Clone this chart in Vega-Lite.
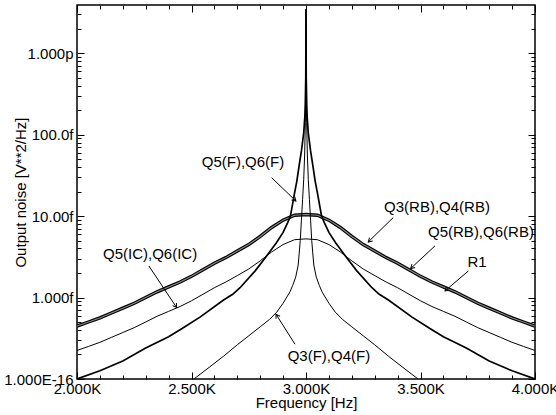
{
  "$schema": "https://vega.github.io/schema/vega-lite/v6.json",
  "width": 458,
  "height": 374,
  "autosize": {"type": "none"},
  "padding": {"left": 77, "top": 5, "right": 21, "bottom": 36},
  "background": "white",
  "config": {
    "font": "Liberation Sans",
    "view": {"stroke": "black", "strokeWidth": 1.5}
  },
  "datasets": {
    "curves": [
      {"s":"RB","f":2000,"v":4.47e-16},{"s":"RB","f":2050,"v":5.01e-16},{"s":"RB","f":2100,"v":5.62e-16},{"s":"RB","f":2150,"v":6.46e-16},{"s":"RB","f":2200,"v":7.41e-16},{"s":"RB","f":2250,"v":8.51e-16},{"s":"RB","f":2300,"v":1.0e-15},{"s":"RB","f":2350,"v":1.175e-15},{"s":"RB","f":2400,"v":1.35e-15},{"s":"RB","f":2450,"v":1.55e-15},{"s":"RB","f":2500,"v":1.82e-15},{"s":"RB","f":2550,"v":2.19e-15},{"s":"RB","f":2600,"v":2.63e-15},{"s":"RB","f":2650,"v":3.09e-15},{"s":"RB","f":2700,"v":3.72e-15},{"s":"RB","f":2750,"v":4.47e-15},{"s":"RB","f":2800,"v":5.62e-15},{"s":"RB","f":2850,"v":7.24e-15},{"s":"RB","f":2900,"v":8.91e-15},{"s":"RB","f":2950,"v":1.023e-14},{"s":"RB","f":3000,"v":1.047e-14},{"s":"RB","f":3050,"v":1.023e-14},{"s":"RB","f":3100,"v":8.91e-15},{"s":"RB","f":3150,"v":7.24e-15},{"s":"RB","f":3200,"v":5.62e-15},{"s":"RB","f":3250,"v":4.47e-15},{"s":"RB","f":3300,"v":3.72e-15},{"s":"RB","f":3350,"v":3.09e-15},{"s":"RB","f":3400,"v":2.63e-15},{"s":"RB","f":3450,"v":2.19e-15},{"s":"RB","f":3500,"v":1.82e-15},{"s":"RB","f":3550,"v":1.55e-15},{"s":"RB","f":3600,"v":1.35e-15},{"s":"RB","f":3650,"v":1.175e-15},{"s":"RB","f":3700,"v":1.0e-15},{"s":"RB","f":3750,"v":8.51e-16},{"s":"RB","f":3800,"v":7.41e-16},{"s":"RB","f":3850,"v":6.46e-16},{"s":"RB","f":3900,"v":5.62e-16},{"s":"RB","f":3950,"v":5.01e-16},{"s":"RB","f":4000,"v":4.47e-16},

      {"s":"IC","f":2000,"v":2.24e-16},{"s":"IC","f":2050,"v":2.51e-16},{"s":"IC","f":2100,"v":2.82e-16},{"s":"IC","f":2150,"v":3.24e-16},{"s":"IC","f":2200,"v":3.72e-16},{"s":"IC","f":2250,"v":4.27e-16},{"s":"IC","f":2300,"v":5.01e-16},{"s":"IC","f":2350,"v":5.89e-16},{"s":"IC","f":2400,"v":6.76e-16},{"s":"IC","f":2450,"v":7.76e-16},{"s":"IC","f":2500,"v":9.12e-16},{"s":"IC","f":2550,"v":1.096e-15},{"s":"IC","f":2600,"v":1.32e-15},{"s":"IC","f":2650,"v":1.55e-15},{"s":"IC","f":2700,"v":1.86e-15},{"s":"IC","f":2750,"v":2.24e-15},{"s":"IC","f":2800,"v":2.82e-15},{"s":"IC","f":2850,"v":3.63e-15},{"s":"IC","f":2900,"v":4.47e-15},{"s":"IC","f":2950,"v":5.13e-15},{"s":"IC","f":3000,"v":5.25e-15},{"s":"IC","f":3050,"v":5.13e-15},{"s":"IC","f":3100,"v":4.47e-15},{"s":"IC","f":3150,"v":3.63e-15},{"s":"IC","f":3200,"v":2.82e-15},{"s":"IC","f":3250,"v":2.24e-15},{"s":"IC","f":3300,"v":1.86e-15},{"s":"IC","f":3350,"v":1.55e-15},{"s":"IC","f":3400,"v":1.32e-15},{"s":"IC","f":3450,"v":1.096e-15},{"s":"IC","f":3500,"v":9.12e-16},{"s":"IC","f":3550,"v":7.76e-16},{"s":"IC","f":3600,"v":6.76e-16},{"s":"IC","f":3650,"v":5.89e-16},{"s":"IC","f":3700,"v":5.01e-16},{"s":"IC","f":3750,"v":4.27e-16},{"s":"IC","f":3800,"v":3.72e-16},{"s":"IC","f":3850,"v":3.24e-16},{"s":"IC","f":3900,"v":2.82e-16},{"s":"IC","f":3950,"v":2.51e-16},{"s":"IC","f":4000,"v":2.24e-16},

      {"s":"F56","f":2000,"v":1.0e-16},{"s":"F56","f":2100,"v":1.26e-16},{"s":"F56","f":2200,"v":1.66e-16},{"s":"F56","f":2300,"v":2.40e-16},{"s":"F56","f":2400,"v":3.31e-16},{"s":"F56","f":2459,"v":4.17e-16},{"s":"F56","f":2537,"v":5.75e-16},{"s":"F56","f":2640,"v":9.33e-16},{"s":"F56","f":2680,"v":1.096e-15},{"s":"F56","f":2712,"v":1.32e-15},{"s":"F56","f":2779,"v":2.14e-15},{"s":"F56","f":2828,"v":3.24e-15},{"s":"F56","f":2870,"v":4.68e-15},{"s":"F56","f":2900,"v":6.31e-15},{"s":"F56","f":2920,"v":8.32e-15},{"s":"F56","f":2932,"v":1.0e-14},{"s":"F56","f":2950,"v":1.91e-14},{"s":"F56","f":2960,"v":2.69e-14},{"s":"F56","f":2970,"v":4.17e-14},{"s":"F56","f":2980,"v":6.31e-14},{"s":"F56","f":2990,"v":1.047e-13},{"s":"F56","f":2995,"v":1.66e-13},{"s":"F56","f":2997,"v":2.40e-13},{"s":"F56","f":2999,"v":5.01e-13},{"s":"F56","f":3000,"v":3.45e-12},{"s":"F56","f":3001,"v":5.01e-13},{"s":"F56","f":3003,"v":2.40e-13},{"s":"F56","f":3005,"v":1.66e-13},{"s":"F56","f":3010,"v":1.047e-13},{"s":"F56","f":3020,"v":6.31e-14},{"s":"F56","f":3030,"v":4.17e-14},{"s":"F56","f":3040,"v":2.69e-14},{"s":"F56","f":3050,"v":1.91e-14},{"s":"F56","f":3068,"v":1.0e-14},{"s":"F56","f":3080,"v":8.32e-15},{"s":"F56","f":3100,"v":6.31e-15},{"s":"F56","f":3130,"v":4.68e-15},{"s":"F56","f":3172,"v":3.24e-15},{"s":"F56","f":3221,"v":2.14e-15},{"s":"F56","f":3288,"v":1.32e-15},{"s":"F56","f":3320,"v":1.096e-15},{"s":"F56","f":3360,"v":9.33e-16},{"s":"F56","f":3463,"v":5.75e-16},{"s":"F56","f":3541,"v":4.17e-16},{"s":"F56","f":3600,"v":3.31e-16},{"s":"F56","f":3700,"v":2.40e-16},{"s":"F56","f":3800,"v":1.66e-16},{"s":"F56","f":3900,"v":1.26e-16},{"s":"F56","f":4000,"v":1.0e-16},

      {"s":"F34","f":2400,"v":5.62e-17},{"s":"F34","f":2480,"v":8.51e-17},{"s":"F34","f":2520,"v":1.047e-16},{"s":"F34","f":2580,"v":1.41e-16},{"s":"F34","f":2640,"v":1.905e-16},{"s":"F34","f":2700,"v":2.63e-16},{"s":"F34","f":2750,"v":3.39e-16},{"s":"F34","f":2800,"v":4.37e-16},{"s":"F34","f":2840,"v":5.37e-16},{"s":"F34","f":2872,"v":6.61e-16},{"s":"F34","f":2900,"v":8.51e-16},{"s":"F34","f":2930,"v":1.175e-15},{"s":"F34","f":2942,"v":1.41e-15},{"s":"F34","f":2955,"v":1.78e-15},{"s":"F34","f":2966,"v":2.51e-15},{"s":"F34","f":2975,"v":5.01e-15},{"s":"F34","f":2980,"v":8.91e-15},{"s":"F34","f":2985,"v":1.585e-14},{"s":"F34","f":2990,"v":2.82e-14},{"s":"F34","f":2994,"v":5.62e-14},{"s":"F34","f":2997,"v":1.41e-13},{"s":"F34","f":2999,"v":3.98e-13},{"s":"F34","f":3000,"v":3.45e-12},{"s":"F34","f":3001,"v":3.98e-13},{"s":"F34","f":3003,"v":1.41e-13},{"s":"F34","f":3006,"v":5.62e-14},{"s":"F34","f":3010,"v":2.82e-14},{"s":"F34","f":3015,"v":1.585e-14},{"s":"F34","f":3020,"v":8.91e-15},{"s":"F34","f":3025,"v":5.01e-15},{"s":"F34","f":3034,"v":2.51e-15},{"s":"F34","f":3045,"v":1.78e-15},{"s":"F34","f":3058,"v":1.41e-15},{"s":"F34","f":3070,"v":1.175e-15},{"s":"F34","f":3100,"v":8.51e-16},{"s":"F34","f":3128,"v":6.61e-16},{"s":"F34","f":3160,"v":5.37e-16},{"s":"F34","f":3200,"v":4.37e-16},{"s":"F34","f":3250,"v":3.39e-16},{"s":"F34","f":3300,"v":2.63e-16},{"s":"F34","f":3360,"v":1.905e-16},{"s":"F34","f":3420,"v":1.41e-16},{"s":"F34","f":3480,"v":1.047e-16},{"s":"F34","f":3520,"v":8.51e-17},{"s":"F34","f":3600,"v":5.62e-17}
    ],
    "notes": [
      {"t":"Q5(F),Q6(F)","f":2725,"v":4.57e-14},
      {"t":"Q3(RB),Q4(RB)","f":3572,"v":1.29e-14},
      {"t":"Q5(RB),Q6(RB)","f":3764,"v":6.3e-15},
      {"t":"R1","f":3747,"v":2.71e-15},
      {"t":"Q5(IC),Q6(IC)","f":2319,"v":3.40e-15},
      {"t":"Q3(F),Q4(F)","f":3100,"v":1.92e-16}
    ],
    "arrows": [
      {"id":"a1","f":2850,"v":2.96e-14,"f2":2956,"v2":1.53e-14},
      {"id":"a2","f":3381,"v":9.6e-15,"f2":3272,"v2":4.81e-15},
      {"id":"a3","f":3563,"v":4.30e-15,"f2":3457,"v2":2.27e-15},
      {"id":"a4","f":3709,"v":2.12e-15,"f2":3607,"v2":1.205e-15},
      {"id":"a5","f":2314,"v":2.44e-15,"f2":2435,"v2":7.54e-16},
      {"id":"a6","f":2952,"v":2.67e-16,"f2":2869,"v2":6.24e-16}
    ]
  },
  "layer": [
    {
      "data": {"name": "curves"},
      "transform": [{"filter": "datum.s == 'RB'"}],
      "mark": {"type": "line", "color": "black", "strokeWidth": 3.4, "clip": true},
      "encoding": {
        "x": {"field": "f", "type": "quantitative",
          "scale": {"domain": [2000, 4000], "nice": false, "zero": false},
          "axis": {
            "orient": "bottom",
            "values": [2000,2100,2200,2300,2400,2500,2600,2700,2800,2900,3000,3100,3200,3300,3400,3500,3600,3700,3800,3900,4000],
            "labelExpr": "datum.value % 500 == 0 ? format(datum.value/1000, '.3f') + 'K' : ''",
            "tickSize": {"condition": {"test": "datum.value % 500 == 0", "value": -7}, "value": -4},
            "tickColor": "black", "tickWidth": 1,
            "labelPadding": 9, "labelFontSize": 15, "labelColor": "black", "labelFont": "Liberation Sans",
            "labelOverlap": false, "labelFlush": false, "labelBound": false,
            "domain": false, "grid": false,
            "title": "Frequency [Hz]", "titleFont": "Liberation Sans", "titleFontSize": 15,
            "titleFontWeight": "normal", "titleColor": "black", "titlePadding": -4
          }
        },
        "y": {"field": "v", "type": "quantitative",
          "scale": {"type": "log", "domain": [1e-16, 3.9e-12], "nice": false},
          "axis": {
            "orient": "left",
            "values": [1e-16,2e-16,3e-16,4e-16,5e-16,6e-16,7e-16,8e-16,9e-16,1e-15,2e-15,3e-15,4e-15,5e-15,6e-15,7e-15,8e-15,9e-15,1e-14,2e-14,3e-14,4e-14,5e-14,6e-14,7e-14,8e-14,9e-14,1e-13,2e-13,3e-13,4e-13,5e-13,6e-13,7e-13,8e-13,9e-13,1e-12,2e-12,3e-12],
            "labelExpr": "abs(datum.value/1e-12-1)<0.01 ? '1.000p' : abs(datum.value/1e-13-1)<0.01 ? '100.0f' : abs(datum.value/1e-14-1)<0.01 ? '10.00f' : abs(datum.value/1e-15-1)<0.01 ? '1.000f' : abs(datum.value/1e-16-1)<0.01 ? '1.000E-16' : ''",
            "tickSize": {"condition": {"test": "abs(log(datum.value)/LN10 - round(log(datum.value)/LN10)) < 0.001", "value": -7}, "value": -4},
            "tickColor": "black", "tickWidth": 1,
            "labelPadding": 11, "labelFontSize": 15, "labelColor": "black", "labelFont": "Liberation Sans",
            "labelOverlap": false, "labelFlush": false, "labelBound": false,
            "domain": false, "grid": false,
            "title": "Output noise [V**2/Hz]", "titleFont": "Liberation Sans", "titleFontSize": 15,
            "titleFontWeight": "normal", "titleColor": "black",
            "titleX": -57, "titleY": 187, "titleAlign": "center", "titleBaseline": "middle", "titleAngle": -90
          }
        }
      }
    },
    {
      "data": {"name": "curves"},
      "transform": [{"filter": "datum.s == 'RB'"}],
      "mark": {"type": "line", "color": "#8c8c8c", "strokeWidth": 1.1, "clip": true},
      "encoding": {
        "x": {"field": "f", "type": "quantitative", "scale": {"domain": [2000, 4000], "nice": false, "zero": false}, "axis": null},
        "y": {"field": "v", "type": "quantitative", "scale": {"type": "log", "domain": [1e-16, 3.9e-12], "nice": false}, "axis": null}
      }
    },
    {
      "data": {"name": "curves"},
      "transform": [{"filter": "datum.s == 'IC'"}],
      "mark": {"type": "line", "color": "black", "strokeWidth": 1, "clip": true},
      "encoding": {
        "x": {"field": "f", "type": "quantitative", "scale": {"domain": [2000, 4000], "nice": false, "zero": false}, "axis": null},
        "y": {"field": "v", "type": "quantitative", "scale": {"type": "log", "domain": [1e-16, 3.9e-12], "nice": false}, "axis": null}
      }
    },
    {
      "data": {"name": "curves"},
      "transform": [{"filter": "datum.s == 'F56'"}],
      "mark": {"type": "line", "color": "black", "strokeWidth": 1.7, "clip": true},
      "encoding": {
        "x": {"field": "f", "type": "quantitative", "scale": {"domain": [2000, 4000], "nice": false, "zero": false}, "axis": null},
        "y": {"field": "v", "type": "quantitative", "scale": {"type": "log", "domain": [1e-16, 3.9e-12], "nice": false}, "axis": null}
      }
    },
    {
      "data": {"name": "curves"},
      "transform": [{"filter": "datum.s == 'F34'"}],
      "mark": {"type": "line", "color": "black", "strokeWidth": 1, "clip": true},
      "encoding": {
        "x": {"field": "f", "type": "quantitative", "scale": {"domain": [2000, 4000], "nice": false, "zero": false},
          "axis": {
            "orient": "top",
            "values": [2000,2100,2200,2300,2400,2500,2600,2700,2800,2900,3000,3100,3200,3300,3400,3500,3600,3700,3800,3900,4000],
            "labels": false,
            "tickSize": {"condition": {"test": "datum.value % 500 == 0", "value": -7}, "value": -4},
            "tickColor": "black", "tickWidth": 1, "domain": false, "grid": false, "title": null
          }
        },
        "y": {"field": "v", "type": "quantitative", "scale": {"type": "log", "domain": [1e-16, 3.9e-12], "nice": false},
          "axis": {
            "orient": "right",
            "values": [1e-16,2e-16,3e-16,4e-16,5e-16,6e-16,7e-16,8e-16,9e-16,1e-15,2e-15,3e-15,4e-15,5e-15,6e-15,7e-15,8e-15,9e-15,1e-14,2e-14,3e-14,4e-14,5e-14,6e-14,7e-14,8e-14,9e-14,1e-13,2e-13,3e-13,4e-13,5e-13,6e-13,7e-13,8e-13,9e-13,1e-12,2e-12,3e-12],
            "labels": false,
            "tickSize": {"condition": {"test": "abs(log(datum.value)/LN10 - round(log(datum.value)/LN10)) < 0.001", "value": -7}, "value": -4},
            "tickColor": "black", "tickWidth": 1, "domain": false, "grid": false, "title": null
          }
        }
      }
    },
    {
      "data": {"name": "notes"},
      "mark": {"type": "text", "font": "Liberation Sans", "fontSize": 15, "color": "black", "align": "center", "baseline": "middle"},
      "encoding": {
        "x": {"field": "f", "type": "quantitative", "scale": {"domain": [2000, 4000], "nice": false, "zero": false}, "axis": null},
        "y": {"field": "v", "type": "quantitative", "scale": {"type": "log", "domain": [1e-16, 3.9e-12], "nice": false}, "axis": null},
        "text": {"field": "t"}
      }
    },
    {
      "data": {"name": "arrows"},
      "mark": {"type": "rule", "color": "black", "strokeWidth": 1},
      "encoding": {
        "x": {"field": "f", "type": "quantitative", "scale": {"domain": [2000, 4000], "nice": false, "zero": false}, "axis": null},
        "y": {"field": "v", "type": "quantitative", "scale": {"type": "log", "domain": [1e-16, 3.9e-12], "nice": false}, "axis": null},
        "x2": {"field": "f2"},
        "y2": {"field": "v2"}
      }
    },
    {
      "data": {"name": "arrows"},
      "mark": {"type": "point", "shape": "M -0.6 1 L 0 0 L 0.6 1", "filled": false, "stroke": "black", "strokeWidth": 1, "size": 60, "opacity": 1},
      "encoding": {
        "x": {"field": "f2", "type": "quantitative", "scale": {"domain": [2000, 4000], "nice": false, "zero": false}, "axis": null},
        "y": {"field": "v2", "type": "quantitative", "scale": {"type": "log", "domain": [1e-16, 3.9e-12], "nice": false}, "axis": null},
        "angle": {"field": "id", "type": "nominal", "legend": null,
          "scale": {"type": "ordinal", "domain": ["a1","a2","a3","a4","a5","a6"], "range": [134, 226, 227, 229, 146, 328]}}
      }
    }
  ],
  "resolve": {"axis": {"x": "independent", "y": "independent"}}
}
